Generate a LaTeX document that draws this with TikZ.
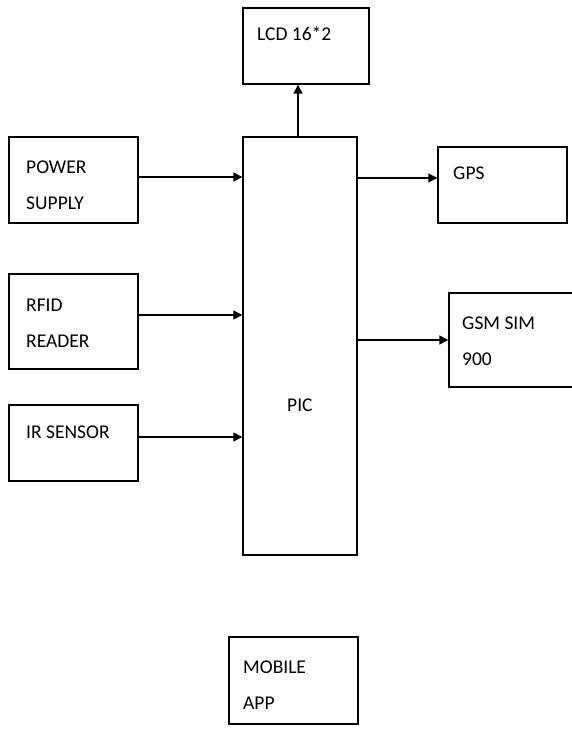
\documentclass[tikz,border=0pt]{standalone}
\usepackage{fontspec}
\setmainfont{Carlito}
\usetikzlibrary{arrows.meta}
\begin{document}
\begin{tikzpicture}[x=1pt,y=-1pt,
  blk/.style={draw=black,line width=1.4pt,inner sep=0pt,minimum width=#1},
  lbl/.style={anchor=base west,inner sep=0pt,font=\fontsize{19.5}{23}\selectfont,text=black},
  arr/.style={line width=1.4pt,-{Triangle[length=9pt,width=9pt]}}]
\clip (0,0) rectangle (572,730);
\fill[white] (0,0) rectangle (572,730);
% boxes
\node[blk=126pt,minimum height=76pt] (lcd) at (306,46) {};
\node[blk=114pt,minimum height=418pt] (pic) at (300,346) {};
\node[blk=129pt,minimum height=86pt] (pwr) at (73.5,180) {};
\node[blk=129pt,minimum height=95pt] (rfid) at (73.5,321.5) {};
\node[blk=129pt,minimum height=76pt] (ir) at (73.5,443) {};
\node[blk=129pt,minimum height=76pt] (gps) at (502.5,185) {};
\node[blk=132pt,minimum height=94pt] (gsm) at (515,340) {};
\node[blk=129pt,minimum height=87pt] (app) at (293.5,680.5) {};
% labels
\node[lbl] (tlcd) at (257,41) {LCD 16*2};
\node[lbl] (tpwr1) at (26,174) {POWER};
\node[lbl] (tpwr2) at (26,209) {SUPPLY};
\node[lbl] (tgps) at (453,179) {GPS};
\node[lbl] (trfid1) at (26,311) {RFID};
\node[lbl] (trfid2) at (26,347) {READER};
\node[lbl] (tgsm1) at (462,329) {GSM SIM};
\node[lbl] (tgsm2) at (462,365) {900};
\node[lbl] (tir) at (26,438) {IR SENSOR};
\node[lbl] (tpic) at (287,411) {PIC};
\node[lbl] (tapp1) at (243,673) {MOBILE};
\node[lbl] (tapp2) at (243,709) {APP};
% connectors
\draw[arr] (pic.north -| 298,0) -- (lcd.south -| 298,0);
\draw[arr] (pwr.east |- 0,177) -- (pic.west |- 0,177);
\draw[arr] (rfid.east |- 0,315) -- (pic.west |- 0,315);
\draw[arr] (ir.east |- 0,437) -- (pic.west |- 0,437);
\draw[arr] (pic.east |- 0,178) -- (gps.west |- 0,178);
\draw[arr] (pic.east |- 0,340) -- (gsm.west |- 0,340);
\end{tikzpicture}
\end{document}
